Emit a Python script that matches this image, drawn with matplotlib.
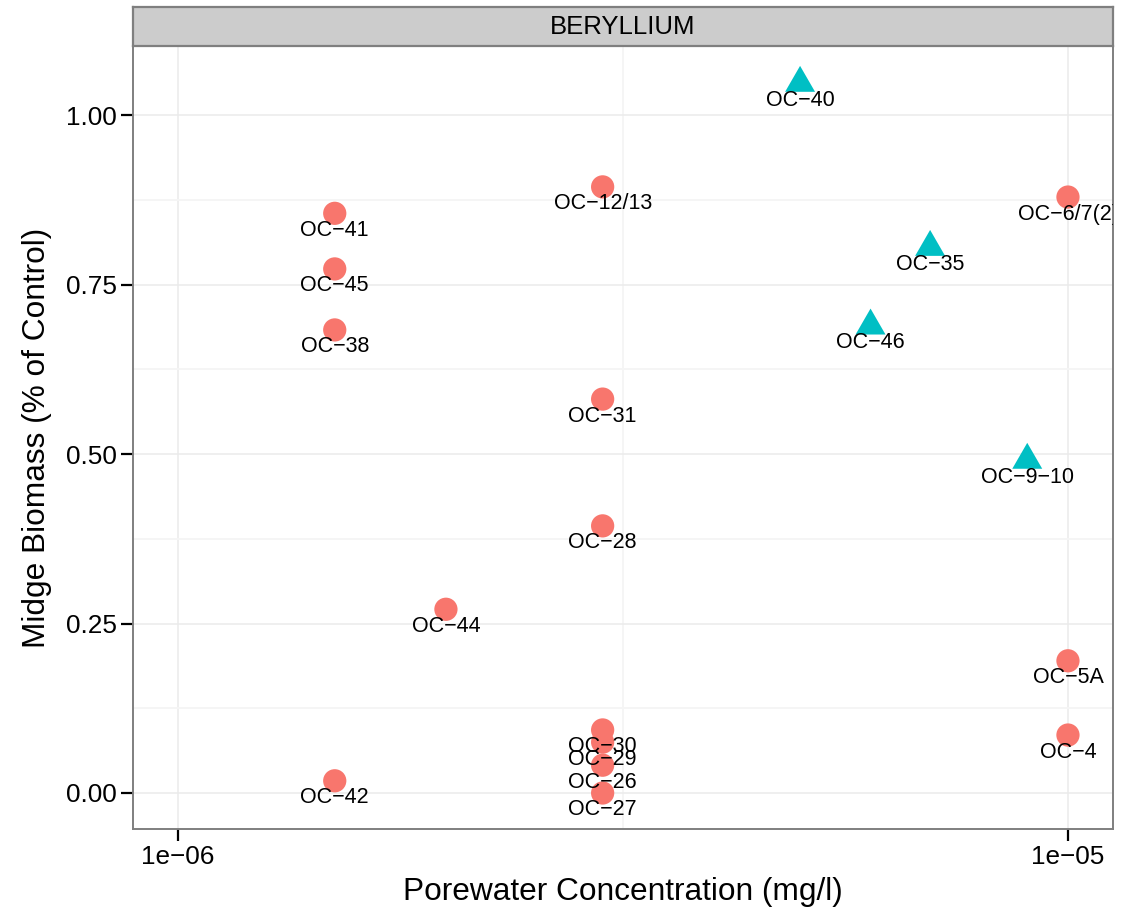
import numpy as np
import matplotlib
matplotlib.use("Agg")
import matplotlib.pyplot as plt
import matplotlib.transforms as mtransforms
from matplotlib.path import Path
from matplotlib.ticker import FixedLocator, FuncFormatter

plt.rcParams['font.family'] = ['Liberation Sans', 'DejaVu Sans']

# data
labels = ["OC-41", "OC-45", "OC-38", "OC-42", "OC-44",
          "OC-12/13", "OC-31", "OC-28", "OC-30", "OC-29", "OC-26", "OC-27",
          "OC-40", "OC-46", "OC-35", "OC-9-10",
          "OC-6/7(2)", "OC-5A", "OC-4"]
conc = [1.5e-6, 1.5e-6, 1.5e-6, 1.5e-6, 2e-6,
        3e-6, 3e-6, 3e-6, 3e-6, 3e-6, 3e-6, 3e-6,
        5e-6, 6e-6, 7e-6, 9e-6,
        1e-5, 1e-5, 1e-5]
biomass = [0.855, 0.773, 0.683, 0.018, 0.271,
           0.894, 0.581, 0.394, 0.093, 0.075, 0.041, 0.0,
           1.047, 0.689, 0.805, 0.491,
           0.879, 0.195, 0.0855]
group = ["a"] * 12 + ["b"] * 4 + ["a"] * 3

colors = {"a": "#F8766D", "b": "#00BFC4"}
# triangle centred on its centroid, like R's pch 17
tri = Path([(0, 1.0), (-0.866, -0.5), (0.866, -0.5), (0, 1.0)],
           [Path.MOVETO, Path.LINETO, Path.LINETO, Path.CLOSEPOLY])
markers = {"a": "o", "b": tri}
sizes = {"a": 280, "b": 620}

fig = plt.figure(figsize=(11.22, 9.13), dpi=100)
W, H = 1122, 913
ax = fig.add_axes([133 / W, 1 - 829 / H, (1113 - 133) / W, (829 - 46) / H])
strip = fig.add_axes([133 / W, 1 - 46 / H, (1113 - 133) / W, (46 - 7) / H])

conc = np.array(conc)
biomass = np.array(biomass)
for g in ["a", "b"]:
    idx = [i for i, v in enumerate(group) if v == g]
    ax.scatter(conc[idx], biomass[idx], s=sizes[g], marker=markers[g],
               color=colors[g], edgecolors='none', zorder=3)

offset = mtransforms.ScaledTranslation(0, -17 / 100, fig.dpi_scale_trans)
for lab, xv, yv in zip(labels, conc, biomass):
    ax.text(xv, yv, lab.replace("-", "\u2212"), transform=ax.transData + offset,
            ha='center', va='center', fontsize=15.5, color='black',
            clip_on=True, zorder=4)

ax.set_xscale('log')
ax.set_xlim(10 ** -6.0506, 10 ** -4.9494)
ax.set_ylim(-0.0531, 1.1018)

ax.xaxis.set_major_locator(FixedLocator([1e-6, 1e-5]))
ax.xaxis.set_minor_locator(FixedLocator([10 ** -5.5]))
ax.xaxis.set_major_formatter(FuncFormatter(lambda v, p: "1e\u221206" if v < 5e-6 else "1e\u221205"))
ax.xaxis.set_minor_formatter(FuncFormatter(lambda v, p: ""))
ax.yaxis.set_major_locator(FixedLocator([0, 0.25, 0.5, 0.75, 1.0]))
ax.yaxis.set_minor_locator(FixedLocator([0.125, 0.375, 0.625, 0.875]))
ax.yaxis.set_major_formatter(FuncFormatter(lambda v, p: f"{v:.2f}"))

ax.grid(which='major', color='#EBEBEB', linewidth=1.1, zorder=0)
ax.grid(which='minor', color='#F5F5F5', linewidth=1.3, zorder=0)
ax.set_axisbelow(True)

ax.tick_params(which='major', length=8.5, width=1.6, color='black',
               labelsize=18.8, labelcolor='black', pad=3)
ax.tick_params(which='minor', length=0)
for sp in ax.spines.values():
    sp.set_color('#7F7F7F')
    sp.set_linewidth(1.4)

ax.set_xlabel("Porewater Concentration (mg/l)", fontsize=22.8, labelpad=6)
ax.set_ylabel("Midge Biomass (% of Control)", fontsize=22.8, labelpad=10)

strip.set_facecolor('#CCCCCC')
strip.set_xticks([])
strip.set_yticks([])
for sp in strip.spines.values():
    sp.set_color('#7F7F7F')
    sp.set_linewidth(1.6)
strip.text(0.5, 0.5, "BERYLLIUM", ha='center', va='center', fontsize=18.5,
           transform=strip.transAxes)

fig.savefig("out.png", dpi=100)
